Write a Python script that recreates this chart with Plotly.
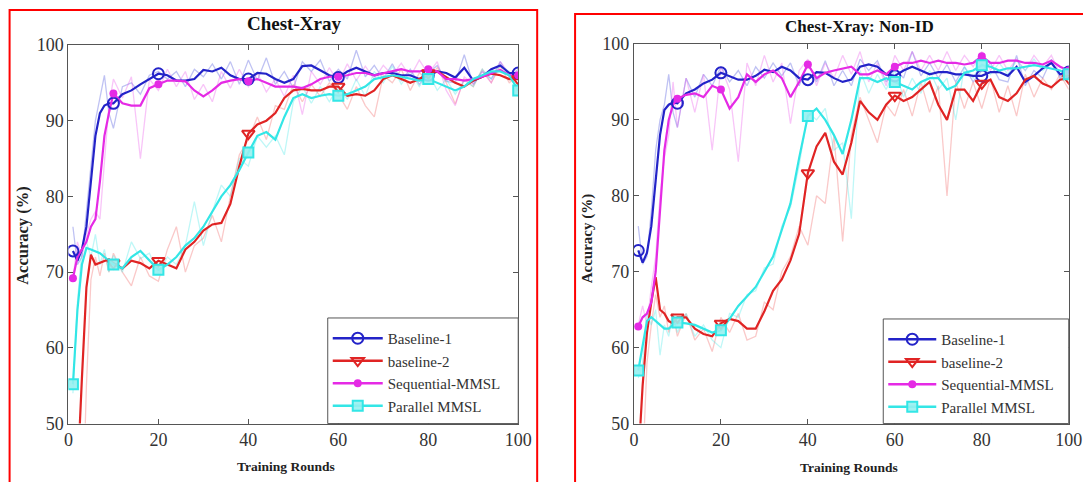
import plotly.graph_objects as go

# ---------------- data ----------------
ROUNDS = list(range(1, 11)) + list(range(12, 101, 2))
MARK_ROUNDS = [1, 10, 20, 40, 60, 80, 100]
SERIES = ["Baseline-1", "baseline-2", "Sequential-MMSL", "Parallel MMSL"]
X_TICKS = [0, 20, 40, 60, 80, 100]
Y_TICKS = [50, 60, 70, 80, 90, 100]

# ---- Panel 1: Chest-Xray (smoothed) ----
iid_baseline1 = [72.8, 71.5, 73, 76, 82, 88, 91, 92, 92.3, 92.3,
                 93.5, 94, 94.8, 95.5, 96.2, 96, 95.3, 95.3, 95.5, 96.7,
                 96.5, 97, 96, 95.5, 95.5, 96.3, 96.2, 95.5, 95, 95.5,
                 97.2, 97.3, 96.7, 96, 95.7, 96.5, 97, 96.5, 96, 96.3,
                 96.3, 96, 96, 95.5, 96, 96.5, 96.3, 95.7, 97, 95.3,
                 95.8, 96.8, 97.3, 96.3, 96.3]
iid_baseline2 = [30, 44, 56, 68, 72.3, 71, 71.2, 71.5, 71.7, 71.2,
                 70.5, 71.5, 71.2, 70.5, 71.5, 71, 70.5, 73, 74, 75.5,
                 76.3, 76.5, 79, 84, 88.3, 89.5, 90, 91, 93, 94,
                 94.2, 94, 94, 94.5, 94.5, 93.3, 93.5, 93.3, 94, 95.5,
                 96, 95.5, 95, 95.5, 96.3, 96.5, 95.8, 95, 94.5, 95.3,
                 95.8, 96.2, 96, 95.5, 95.5]
iid_sequential = [69.2, 72, 73, 74, 76, 77, 82, 88, 91, 93.6,
                  92.3, 92, 92, 94.3, 94.8, 95.3, 95.3, 95.2, 94, 93.2,
                  94, 95, 95.3, 95.5, 95.2, 95.5, 95, 94.5, 94.5, 94.5,
                  94.3, 94.8, 95.5, 95.8, 95.8, 96, 96.3, 96.3, 96, 96.3,
                  96.5, 96.8, 96.5, 96.5, 96.8, 96.5, 95.5, 95.5, 95.3, 95.5,
                  95.8, 96.3, 96.7, 96, 96]
iid_parallel = [55.2, 65, 71, 73.2, 73, 72.8, 72.5, 72, 71.5, 71,
                70.5, 72, 72.8, 71.5, 70.3, 71, 72, 73.5, 74.5, 76,
                78, 80, 81.5, 83.5, 85.8, 88, 88.5, 87.5, 90.5, 93,
                93.5, 93, 93.3, 93.5, 93.3, 93.5, 94, 94.5, 95.5, 95.8,
                96, 95.8, 95.5, 95.3, 95.5, 95, 94.5, 94, 94.5, 95.5,
                96, 96.5, 96.5, 96, 94]

# ---- Panel 1: raw (faint) ----
iid_baseline1_raw = [76, 71, 72, 78, 85, 90, 93, 96, 91, 89,
                     94.5, 95, 93.5, 96, 96.5, 95.5, 96.5, 94.5, 96.8, 95.8,
                     97.5, 95.5, 97.8, 94.8, 98, 95.3, 98.3, 94.8, 96.5, 94.3,
                     97.8, 96.5, 98, 95.2, 96.8, 95.5, 99.3, 95.8, 97.3, 95.5,
                     97.5, 95.3, 96.8, 94.8, 96.3, 97.3, 95.2, 95, 98.7, 94.8,
                     96.5, 95.5, 97.8, 95.8, 96.8]
iid_baseline2_raw = [20, 25, 35, 55, 69, 72, 69.5, 72.5, 70, 72.5,
                     70, 68.2, 72, 69.5, 68.8, 73, 76, 70, 73.5, 74.5,
                     77.5, 74, 80, 85.5, 87.5, 90.5, 87.5, 92, 91.5, 94.8,
                     92.5, 94.8, 93.2, 95, 93.5, 91.5, 94.5, 92, 90.5, 96,
                     95, 96.8, 94, 96.3, 95.5, 97, 95, 92.2, 95.5, 94.5,
                     96.8, 95, 97.2, 95, 96]
iid_sequential_raw = [69, 74, 72, 75, 77, 78, 77, 85, 92, 95.5,
                      93, 95.8, 85, 95.5, 94, 96.8, 94.5, 96.5, 92.8, 94.8,
                      92.5, 96.5, 94.3, 96.8, 94.5, 96.3, 93.8, 95.5, 93.2, 96,
                      90.8, 96.5, 94.8, 97, 95, 97.5, 95.3, 97.2, 95.5, 97.3,
                      96, 97.6, 95.8, 98, 96.2, 97.8, 94, 92, 95.8, 94.8,
                      96.5, 95, 97.8, 96.2, 95.5]
iid_parallel_raw = [54, 66, 73, 74, 72, 75, 71, 73, 70, 72.2,
                    70, 74, 71.8, 72.5, 69.8, 72, 71, 73.5, 79.3, 73.5,
                    78, 81.5, 80, 85, 84, 88, 86.5, 88, 85.5, 92.5,
                    94.5, 92.3, 94.5, 92.5, 94.5, 92.8, 95.5, 93.2, 96.5, 95,
                    97.2, 94.8, 96.5, 94.5, 96.3, 94, 95.5, 93.5, 95.3, 94.5,
                    96.8, 95.5, 97.3, 96.5, 93.5]

# ---- Panel 2: Chest-Xray: Non-ID (smoothed) ----
nid_baseline1 = [72.8, 71.2, 72.5, 76, 82, 88, 91.3, 92, 92.3, 92.2,
                 93.5, 94, 94.8, 95.3, 96.2, 95.8, 95.3, 95.3, 95.8, 96.6,
                 96.3, 97, 96.5, 95.5, 95.3, 96.3, 96.2, 95.5, 95, 95.3,
                 97, 97.3, 97, 96, 95.8, 96.5, 97, 96.5, 96, 96.3,
                 96.3, 96, 96, 95.8, 95.8, 96.3, 96.3, 95.8, 97, 95,
                 95.8, 96.8, 97.5, 96, 96.3]
nid_baseline2 = [45, 55, 62, 66, 69.3, 65, 64.5, 63.5, 63.2, 64,
                 64, 62.5, 61.8, 61.5, 63.2, 63.8, 63.5, 62.5, 62.5, 64.8,
                 67.5, 69, 71.5, 75, 83, 86.5, 88.3, 84.5, 82.8, 87,
                 92.5, 91, 90, 92, 93.2, 92.5, 93, 94, 95, 92,
                 90, 94, 94, 92.5, 94.8, 95.3, 93, 92.5, 93.5, 95.3,
                 95.8, 94.8, 94.3, 95.3, 95.5]
nid_sequential = [62.8, 64, 64.5, 66, 70, 78, 86, 90, 92, 92.8,
                  93.3, 93.5, 93, 94.5, 94, 91.5, 93, 96, 95, 96,
                  96.5, 95.5, 93, 95, 97.3, 95.5, 96.2, 96.5, 96.8, 97,
                  96, 96, 96.5, 96, 97, 97.5, 97.5, 97.8, 97.5, 97.8,
                  97.5, 97.5, 97.3, 97.5, 98.4, 97.5, 97.5, 97.8, 97.8, 97.5,
                  97.5, 97.3, 97.8, 97, 96.5]
nid_parallel = [57, 60, 63.5, 64, 63.5, 63, 62.5, 62.5, 63, 63.3,
                63.2, 63, 62.5, 62, 62.3, 63.8, 65.5, 66.8, 68, 70,
                72, 75.5, 79, 85, 90.5, 91.5, 90, 88, 85.5, 90,
                95.5, 95.5, 95, 95.5, 95, 94.5, 94, 95, 95.5, 95.5,
                94, 94.5, 96.2, 96.5, 97.2, 97, 96.5, 96.8, 96.8, 97,
                97.2, 97, 96.8, 96.5, 96]

# ---- Panel 2: raw (faint) ----
nid_baseline1_raw = [76, 71, 72, 78, 86, 90, 92, 96, 91, 89,
                     95.5, 93, 96, 94.5, 97, 95, 96.5, 94.5, 97, 95.5,
                     97.5, 95.8, 97.5, 94.5, 97.5, 95, 97.8, 94.5, 96.5, 94.5,
                     98, 96.5, 97.8, 95, 96.8, 95.5, 99, 95.8, 97.5, 95.5,
                     97.3, 95, 97, 95, 96.5, 97.5, 95.3, 95, 98.5, 94.5,
                     96.5, 95.5, 98, 95.5, 97]
nid_baseline2_raw = [30, 45, 58, 63, 67, 64, 65.5, 62, 64.5, 61.5,
                     64.5, 61, 62.5, 59.5, 64, 62, 64.5, 61, 61.5, 66,
                     65, 70, 72, 76, 73.5, 80, 79, 88, 74, 88,
                     93, 90, 87, 92, 90.5, 94, 90.5, 95, 91, 94.5,
                     80, 95, 91.5, 95, 91.5, 95.5, 91, 94.5, 90.5, 96,
                     93, 95.5, 94, 96, 94]
nid_sequential_raw = [63, 65.5, 63, 68, 72, 80, 85, 88, 95, 89,
                      95.5, 91, 96, 86, 97, 94, 84.5, 97.5, 94.5, 98.5,
                      95, 97.5, 89.5, 96.5, 98, 94.5, 97.5, 95.5, 98.5, 96,
                      99, 95, 97.5, 94.5, 98.5, 96.5, 99, 96.5, 98.5, 96.5,
                      99, 96.5, 98.5, 97, 99, 96.5, 98.5, 96.5, 98, 96.5,
                      98.5, 97, 98.5, 96, 97]
nid_parallel_raw = [56, 58, 64.5, 63, 65, 59, 63, 61.5, 64.5, 62,
                    64.5, 61.5, 63, 61, 60, 64.5, 64, 67, 67.5, 70.5,
                    71, 76, 78.5, 84, 91, 90, 91.5, 86, 87, 77,
                    96.5, 93.5, 96, 94, 96.5, 93, 95.5, 93.5, 96.5, 94,
                    95.5, 90, 97, 95.5, 97.5, 96, 97.5, 96, 97.8, 96.5,
                    98, 96.5, 97.5, 96, 96.5]

PANELS = [
    dict(smooth=[iid_baseline1, iid_baseline2, iid_sequential, iid_parallel],
         raw=[iid_baseline1_raw, iid_baseline2_raw, iid_sequential_raw, iid_parallel_raw]),
    dict(smooth=[nid_baseline1, nid_baseline2, nid_sequential, nid_parallel],
         raw=[nid_baseline1_raw, nid_baseline2_raw, nid_sequential_raw, nid_parallel_raw]),
]

# ---------------- style ----------------
W, H = 1083, 482
COLORS = ["#2323c8", "#e02424", "#e52ae5", "#33e6e6"]
RAW_COLORS = ["rgba(60,70,220,0.33)", "rgba(240,90,90,0.33)",
              "rgba(235,80,235,0.33)", "rgba(60,230,230,0.33)"]
MARKERS = [
    dict(symbol="circle-open", size=11, line=dict(width=2)),
    dict(symbol="triangle-down-open", size=11, line=dict(width=2)),
    dict(symbol="circle", size=8),
    dict(symbol="square", size=10, line=dict(width=2)),
]
SQUARE_FILL = "rgba(150,240,240,0.9)"
SERIF = "Liberation Serif"

# the captured picture maps page pixels slightly inward; place items by target pixel
KX, BX, KY, BY = 0.986, 3.4, 0.962, 8.9


def px(v):
    return ((v - BX) / KX) / W


def py(v):
    return 1 - ((v - BY) / KY) / H


# target plot-area boxes in pixels: (left, right, top, bottom)
BOXES = [(67, 518, 44, 424), (634, 1070, 43, 424)]
LEGEND_BOXES = [(327, 518, 318, 424), (884, 1070, 319, 424)]
LEGEND_ITEMWIDTH = [50, 48]

fig = go.Figure()


def marker_style(s):
    mk = dict(MARKERS[s])
    mk["color"] = COLORS[s] if s != 3 else SQUARE_FILL
    if "line" in mk:
        mk["line"] = dict(mk["line"], color=COLORS[s])
    return mk


for p, panel in enumerate(PANELS):
    xa = "x" if p == 0 else "x2"
    ya = "y" if p == 0 else "y2"
    leg = "legend" if p == 0 else "legend2"
    for s in range(4):
        fig.add_trace(go.Scatter(x=ROUNDS, y=panel["raw"][s], mode="lines",
                                 line=dict(color=RAW_COLORS[s], width=1.3),
                                 xaxis=xa, yaxis=ya, showlegend=False, hoverinfo="skip"))
    for s in range(4):
        fig.add_trace(go.Scatter(x=ROUNDS, y=panel["smooth"][s], mode="lines",
                                 line=dict(color=COLORS[s], width=2.2),
                                 xaxis=xa, yaxis=ya, showlegend=False, name=SERIES[s]))
    for s in range(4):
        lookup = dict(zip(ROUNDS, panel["smooth"][s]))
        fig.add_trace(go.Scatter(x=MARK_ROUNDS, y=[lookup[r] for r in MARK_ROUNDS],
                                 mode="markers", marker=marker_style(s),
                                 xaxis=xa, yaxis=ya, showlegend=False))
    for s in range(4):
        fig.add_trace(go.Scatter(x=[None], y=[None], mode="lines+markers", name=SERIES[s],
                                 line=dict(color=COLORS[s], width=2.5), marker=marker_style(s),
                                 xaxis=xa, yaxis=ya, legend=leg, showlegend=True))

axis_common = dict(showgrid=False, zeroline=False, showline=True, linecolor="#555",
                   linewidth=1, mirror="ticks", ticks="inside", ticklen=5,
                   tickcolor="#555", tickfont=dict(family=SERIF, size=18, color="#333"))

layout = dict(width=W, height=H, autosize=False,
              margin=dict(l=0, r=0, t=0, b=0),
              paper_bgcolor="white", plot_bgcolor="white",
              font=dict(family=SERIF, color="#222"))

shapes = []
for p, (l, r, t, b) in enumerate(BOXES):
    sfx = "" if p == 0 else "2"
    layout["xaxis" + sfx] = dict(axis_common, domain=[px(l), px(r)], range=[0, 100],
                                 tickvals=X_TICKS, anchor="y" + sfx)
    layout["yaxis" + sfx] = dict(axis_common, domain=[py(b), py(t)], range=[50, 100],
                                 tickvals=Y_TICKS, anchor="x" + sfx)
    ll, lr, lt, lb = LEGEND_BOXES[p]
    layout["legend" + sfx] = dict(x=px(ll), y=py(lt + 4), xanchor="left", yanchor="top",
                                  bgcolor="rgba(0,0,0,0)", borderwidth=0,
                                  font=dict(family=SERIF, size=15, color="#333"),
                                  itemwidth=LEGEND_ITEMWIDTH[p], tracegroupgap=0)
    shapes.append(dict(type="rect", xref="paper", yref="paper", x0=px(ll), x1=px(lr),
                       y0=py(lb), y1=py(lt), fillcolor="white",
                       line=dict(color="#555", width=1), layer="above"))


def label(text, x, y, size, angle=0, color="#222"):
    return dict(text=text, x=px(x), y=py(y), xref="paper", yref="paper",
                xanchor="center", yanchor="middle", showarrow=False, textangle=angle,
                font=dict(family=SERIF, size=size, color=color))


annotations = [
    label("<b>Chest-Xray</b>", 293, 22, 19, color="#111"),
    label("<b>Chest-Xray: Non-ID</b>", 860, 25, 17, color="#111"),
    label("<b>Accuracy (%)</b>", 21, 235, 16.5, angle=-90),
    label("<b>Accuracy (%)</b>", 587, 238, 15, angle=-90),
    label("<b>Training Rounds</b>", 285, 467, 13.5),
    label("<b>Training Rounds</b>", 850, 468, 13.5),
]

shapes += [
    dict(type="rect", xref="paper", yref="paper", x0=px(8), x1=px(537),
         y0=py(520), y1=py(9), line=dict(color="red", width=2), layer="below"),
    dict(type="rect", xref="paper", yref="paper", x0=px(575), x1=px(1120),
         y0=py(520), y1=py(13), line=dict(color="red", width=2), layer="below"),
]

layout["annotations"] = annotations
layout["shapes"] = shapes
fig.update_layout(**layout)

fig.write_html("out.html")
